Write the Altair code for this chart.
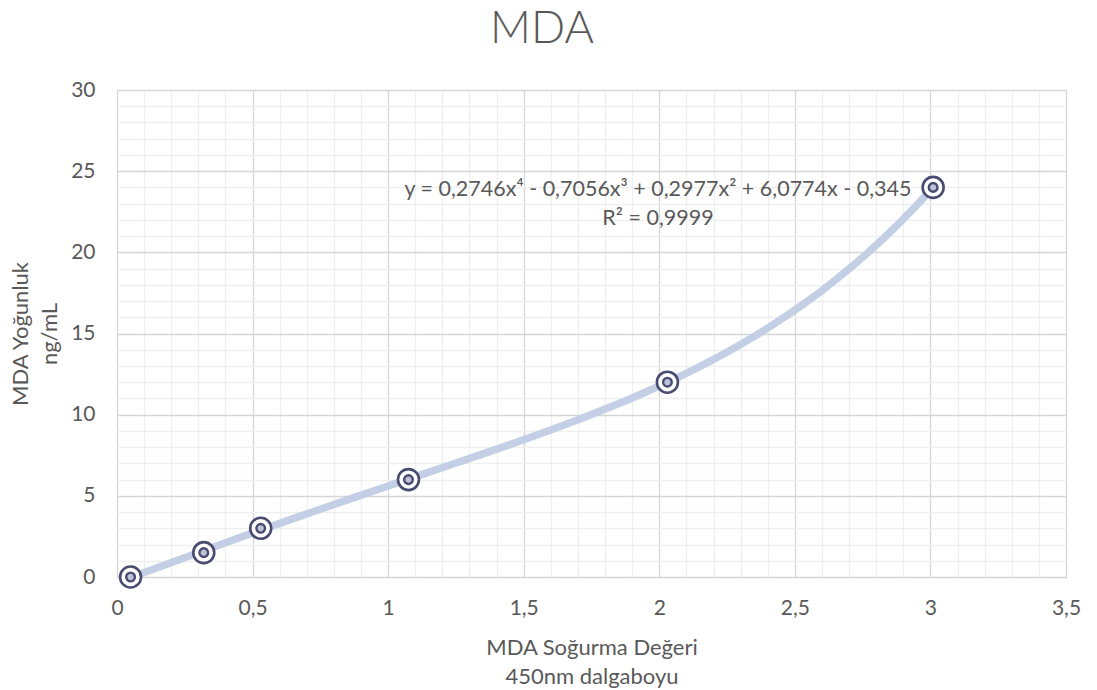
import altair as alt
import pandas as pd

# data
absorbance = [0.05, 0.32, 0.53, 1.075, 2.03, 3.01]
concentration = [0.0, 1.5, 3.0, 6.0, 12.0, 24.0]

x_ticks = [round(i * 0.1, 1) for i in range(36)]
y_ticks = list(range(31))

title_text = ["MDA"]
equation_text = ["y = 0,2746x\u2074 - 0,7056x\u00b3 + 0,2977x\u00b2 + 6,0774x - 0,345\nR\u00b2 = 0,9999"]

FONT = "Lato"
TXT = "#595959"
LBL = 21
TTL = 22

df = pd.DataFrame({"x": absorbance, "y": concentration})

major_x = "abs(datum.value*2 - round(datum.value*2)) < 1e-6"
major_y = "abs(datum.value/5 - round(datum.value/5)) < 1e-6"

x_enc = alt.X(
    "x:Q",
    scale=alt.Scale(domain=[0, 3.5], nice=False, zero=False),
    axis=alt.Axis(
        values=x_ticks,
        tickCount=200,
        grid=True,
        gridColor={"condition": {"test": major_x, "value": "#d6d6d6"}, "value": "#efefef"},
        gridWidth=1.3,
        domain=False,
        ticks=False,
        tickSize=0,
        labelExpr=f"{major_x} ? replace(format(datum.value, '~g'), '.', ',') : ''",
        labelOverlap=False,
        labelFlush=False,
        labelFont=FONT,
        labelFontSize=LBL,
        labelColor=TXT,
        labelBaseline="middle",
        labelPadding=31,
        title=["MDA So\u011furma De\u011feri", "450nm dalgaboyu"],
        titleFont=FONT,
        titleFontSize=TTL,
        titleFontWeight="normal",
        titleColor=TXT,
        titleLineHeight=29,
        titleX=474.5,
        titleY=70,
        titleBaseline="middle",
        titleAlign="center",
    ),
)
y_enc = alt.Y(
    "y:Q",
    scale=alt.Scale(domain=[0, 30], nice=False, zero=False),
    axis=alt.Axis(
        values=y_ticks,
        tickCount=200,
        grid=True,
        gridColor={"condition": {"test": major_y, "value": "#d6d6d6"}, "value": "#efefef"},
        gridWidth=1.3,
        domain=False,
        ticks=False,
        tickSize=0,
        labelExpr=f"{major_y} ? format(datum.value, 'd') : ''",
        labelOverlap=False,
        labelFlush=False,
        labelFont=FONT,
        labelFontSize=LBL,
        labelColor=TXT,
        labelPadding=22,
        title=["MDA Yo\u011funluk", "ng/mL"],
        titleFont=FONT,
        titleFontSize=TTL,
        titleFontWeight="normal",
        titleColor=TXT,
        titleLineHeight=29,
        titleAngle=270,
        titleX=-97,
        titleY=243.5,
        titleBaseline="middle",
        titleAlign="center",
    ),
)

base = alt.Chart(df)

trend = base.transform_regression("x", "y", method="poly", order=4).mark_line(
    color="#c3cfe4", strokeWidth=7.5, strokeCap="round"
).encode(x=x_enc, y=y_enc)

outer = base.mark_point(
    shape="circle", size=440, fill="white", fillOpacity=1, stroke="#4a4b70",
    strokeWidth=2.6, opacity=1,
).encode(x="x:Q", y="y:Q")

inner = base.mark_point(
    shape="circle", size=75, fill="#bcc4da", fillOpacity=1, stroke="#4a4b70",
    strokeWidth=2.4, opacity=1,
).encode(x="x:Q", y="y:Q")

eq = alt.Chart(pd.DataFrame({"t": equation_text})).mark_text(
    font=FONT, fontSize=21.5, color=TXT, align="center", baseline="middle",
    lineBreak="\n", lineHeight=29,
).encode(text="t:N", x=alt.value(541), y=alt.value(99.5))

title = alt.Chart(pd.DataFrame({"t": title_text})).mark_text(
    font=FONT, fontSize=45, fontWeight=300, color=TXT, align="center", baseline="alphabetic",
).encode(text="t:N", x=alt.value(425), y=alt.value(-47))

chart = (
    alt.layer(trend, outer, inner, eq, title)
    .properties(
        width=949,
        height=487,
        autosize="none",
        padding={"left": 117, "top": 90, "right": 31, "bottom": 113},
    )
    .configure_view(stroke=None)
    .configure(background="white")
)

chart.save("out.html", embed_options={"renderer": "svg", "actions": False})
